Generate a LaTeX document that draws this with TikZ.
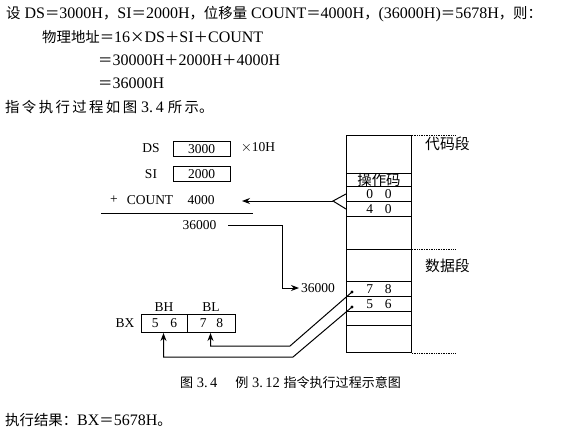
\documentclass[tikz,border=0pt]{standalone}
\usepackage{fontspec}
\setmainfont{Liberation Serif}
\newfontfamily\cjk[Scale=0.9]{Noto Sans CJK SC}
\newcommand\zh[1]{{\cjk #1}}
\usetikzlibrary{arrows.meta}
\begin{document}
\begin{tikzpicture}[x=1pt,y=-1pt,
  txt/.style={inner sep=0, anchor=west, font=\fontsize{16}{18}\selectfont},
  lbl/.style={inner sep=0, font=\fontsize{13.5}{15}\selectfont},
  zhl/.style={inner sep=0, font=\fontsize{16.5}{18}\selectfont},
  cell/.style={draw, line width=1pt, inner sep=0, anchor=north west, minimum width=65pt, font=\fontsize{13.5}{15}\selectfont},
  regbox/.style={draw, line width=1pt, inner sep=0, anchor=north west, minimum height=18pt, font=\fontsize{13.5}{15}\selectfont},
  wire/.style={line width=1pt},
  arr/.style={line width=1pt, -{Stealth[length=8pt,width=6pt]}},
  seg/.style={line width=0.7pt, densely dotted}]
\useasboundingbox (0,0) rectangle (562,434);
% header text
\node[txt] (t1) at (6,14) {\zh{设} DS\zh{＝}3000H\zh{，}SI\zh{＝}2000H\zh{，位移量} COUNT\zh{＝}4000H\zh{，}(36000H)\zh{＝}5678H\zh{，则：}};
\node[txt] (t2) at (42,37) {\zh{物理地址＝}16\zh{×}DS\zh{＋}SI\zh{＋}COUNT};
\node[txt] (t3) at (98,60) {\zh{＝}30000H\zh{＋}2000H\zh{＋}4000H};
\node[txt] (t4) at (98,83) {\zh{＝}36000H};
\node[txt] (t5) at (5,107) {\zh{指\,令\,执\,行\,过\,程\,如\,图} 3.\,4 \zh{所\,示。}};
% memory column
\node[cell, minimum height=38pt] (m1) at (346,135) {};
\node[cell, minimum height=13pt] (op) at (346,173) {\zh{\fontsize{16}{16}\selectfont 操作码}};
\node[cell, minimum height=15pt] (c00) at (346,186) {0\hspace{12pt}0};
\node[cell, minimum height=15pt] (c40) at (346,201) {4\hspace{12pt}0};
\node[cell, minimum height=33pt] (m5) at (346,216) {};
\node[cell, minimum height=32pt] (m6) at (346,249) {};
\node[cell, minimum height=15pt] (c78) at (346,281) {7\hspace{12pt}8};
\node[cell, minimum height=15pt] (c56) at (346,296) {5\hspace{12pt}6};
\node[cell, minimum height=14pt] (m9) at (346,311) {};
\node[cell, minimum height=27pt] (m10) at (346,325) {};
\draw[seg] (m1.north east) -- +(44,0);
\draw[seg] (m6.north east) -- +(44,0);
\draw[seg] (m10.south east) -- +(44,0);
\node[zhl, anchor=west] (code) at (425,144) {\zh{代码段}};
\node[zhl, anchor=west] (data) at (425,266) {\zh{数据段}};
% registers
\node[lbl] (dsl) at (151,148) {DS};
\node[draw, line width=1pt, inner sep=0, minimum width=57pt, minimum height=15pt, font=\fontsize{13.5}{15}\selectfont] (ds) at (201.5,149) {3000};
\node[lbl] (x10) at (258,148) {$\times$10H};
\node[lbl] (sil) at (151,174) {SI};
\node[draw, line width=1pt, inner sep=0, minimum width=57pt, minimum height=15pt, font=\fontsize{13.5}{15}\selectfont] (si) at (201.5,174) {2000};
\node[lbl] (plus) at (114,200) {+};
\node[lbl] (cntl) at (150,200) {COUNT};
\node[lbl] (cnt) at (201,200) {4000};
\draw[wire] (101,213) -- (253,213);
\node[lbl] (sum) at (199.5,225) {36000};
\node[lbl, anchor=west] (addr) at (301,288) {36000};
% count fetch
\coordinate (apex) at (333,201);
\draw[wire] (c00.west) -- (apex) -- (c40.west);
\draw[arr] (apex) -- (242,201);
% address path
\draw[arr] (228,225) -- (282,225) |- ([xshift=-2pt]addr.west);
% BX register
\node[lbl] (bhl) at (164,307) {BH};
\node[lbl] (bll) at (211,307) {BL};
\node[lbl] (bxl) at (125,323) {BX};
\node[regbox, minimum width=46pt] (bh) at (141,314) {5\hspace{12pt}6};
\node[regbox, minimum width=48pt] (bl) at (187,314) {7\hspace{10pt}8};
% data transfer
\coordinate (d1) at (352,292);
\coordinate (d2) at (352,307);
\fill (d1) circle (1.6pt);
\fill (d2) circle (1.6pt);
\draw[arr] (d1) -- (290,346) -| ([xshift=-1pt]bl.south);
\draw[arr] (d2) -- (293,357) -| ([xshift=-1pt]bh.south);
% caption and result
\node[inner sep=0, anchor=west, font=\fontsize{14.5}{16}\selectfont] (cap) at (180,383) {\zh{图} 3.\,4\hspace{18pt}\zh{例} 3.\,12 \zh{指令执行过程示意图}};
\node[txt] (res) at (5,420) {\zh{执行结果：}BX\zh{＝}5678H\zh{。}};
\end{tikzpicture}
\end{document}
